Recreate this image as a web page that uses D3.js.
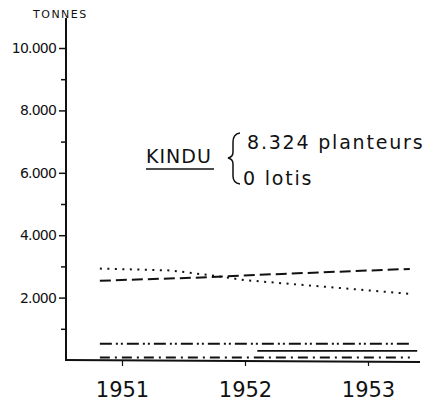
<!DOCTYPE html>
<html>
<head>
<meta charset="utf-8">
<script src="https://cdn.jsdelivr.net/npm/d3@7"></script>
<style>
  body { margin: 0; background: #fff; }
  text { fill: #111; font-family: "DejaVu Sans", sans-serif; }
</style>
</head>
<body>
<div id="chart"></div>
<script>
// data (tonnes)
var majorTicks = [2000, 4000, 6000, 8000, 10000];
var minorTicks = [1000, 3000, 5000, 7000, 9000];
var years = [1951, 1952, 1953];

var dottedSeries = [[1950.82, 2930], [1951.4, 2870], [1951.75, 2700], [1952.0, 2560], [1953.34, 2120]];
var dashedSeries = [[1950.82, 2540], [1951.6, 2640], [1952.3, 2760], [1953.34, 2920]];
var dashDotDotSeries = [[1950.82, 520], [1953.34, 520]];
var solidSeries = [[1952.1, 290], [1953.4, 290]];
var dashDotSeries = [[1950.82, 80], [1953.34, 80]];

var svgWidth = 431;
var svgHeight = 409;

var svg = d3.select('#chart')
    .append('svg')
    .attr('width', svgWidth)
    .attr('height', svgHeight);

var x = d3.scaleLinear().domain([1951, 1953]).range([122, 368]);
var y = d3.scaleLinear().domain([0, 10000]).range([360, 48]);

// axis lines
svg.append('line')
    .attr('x1', 66).attr('x2', 66)
    .attr('y1', 18).attr('y2', y(0) + 1)
    .attr('stroke', '#111').attr('stroke-width', 2);
svg.append('line')
    .attr('x1', 65).attr('x2', 420)
    .attr('y1', y(0)).attr('y2', y(0) + 2)
    .attr('stroke', '#111').attr('stroke-width', 2.2);

// y ticks
var fmt = d => d3.format(',')(d).replace(',', '.');
var leftAxis = d3.axisLeft(y).tickValues(majorTicks).tickSize(7).tickPadding(3).tickFormat(fmt);
var yAxis = svg.append('g')
    .attr('transform', 'translate(66,0)')
    .call(leftAxis);
yAxis.select('.domain').remove();
yAxis.selectAll('line').attr('stroke', '#111').attr('stroke-width', 1.5);
yAxis.selectAll('text')
    .attr('font-size', 14)
    .attr('letter-spacing', -0.8)
    .attr('fill', '#111');

var minorAxis = d3.axisLeft(y).tickValues(minorTicks).tickSize(5).tickFormat('');
var yMinor = svg.append('g')
    .attr('transform', 'translate(66,0)')
    .call(minorAxis);
yMinor.select('.domain').remove();
yMinor.selectAll('line').attr('stroke', '#111').attr('stroke-width', 1.5);

// x ticks
var bottomAxis = d3.axisBottom(x).tickValues(years).tickSize(5).tickPadding(16).tickFormat(d3.format('d'));
var xAxis = svg.append('g')
    .attr('transform', `translate(0, ${y(0) + 1})`)
    .call(bottomAxis);
xAxis.select('.domain').remove();
xAxis.selectAll('line').attr('stroke', '#111').attr('stroke-width', 1.2);
xAxis.selectAll('text')
    .attr('font-size', 21)
    .attr('font-family', '"DejaVu Sans", sans-serif')
    .attr('fill', '#111');

// axis title
svg.append('text')
    .attr('x', 33).attr('y', 18)
    .attr('font-size', 11)
    .attr('letter-spacing', 1.5)
    .text('TONNES');

// series lines
var line = d3.line()
    .x(d => x(d[0]))
    .y(d => y(d[1]));

function drawSeries(data, dash, width) {
    svg.append('path')
        .datum(data)
        .attr('d', line)
        .attr('fill', 'none')
        .attr('stroke', '#111')
        .attr('stroke-width', width)
        .attr('stroke-linecap', 'butt')
        .attr('stroke-dasharray', dash);
}

drawSeries(dottedSeries, '2,5.5', 2);
drawSeries(dashedSeries, '11,5', 2);
drawSeries(dashDotDotSeries, '12,4,2,3,2,4', 2);
drawSeries(solidSeries, null, 1.8);
drawSeries(dashDotSeries, '10,5,2,5', 2);

// annotation
var note = svg.append('g');
note.append('text')
    .attr('x', 146).attr('y', 163)
    .attr('font-size', 19)
    .attr('letter-spacing', 1)
    .text('KINDU');
note.append('line')
    .attr('x1', 146).attr('x2', 214)
    .attr('y1', 169).attr('y2', 169)
    .attr('stroke', '#111').attr('stroke-width', 1.6);
note.append('path')
    .attr('d', 'M240,133 Q233,134 233,142 L233,152 Q233,157 228,158 Q233,159 233,164 L233,176 Q233,183 240,184')
    .attr('fill', 'none')
    .attr('stroke', '#111')
    .attr('stroke-width', 1.5);
note.append('text')
    .attr('x', 247).attr('y', 149)
    .attr('font-size', 19)
    .attr('letter-spacing', 1.8)
    .text('8.324 planteurs');
note.append('text')
    .attr('x', 243).attr('y', 185)
    .attr('font-size', 19)
    .attr('letter-spacing', 1.8)
    .text('0 lotis');
</script>
</body>
</html>
